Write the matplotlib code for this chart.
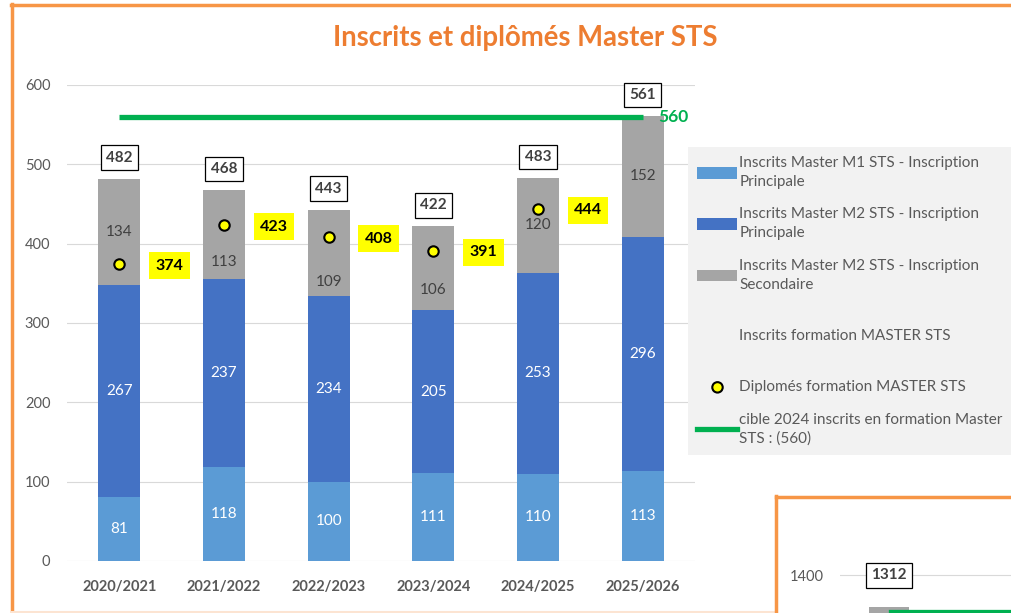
import numpy as np
import matplotlib.pyplot as plt
from matplotlib.patches import Patch
from matplotlib.lines import Line2D
from matplotlib.markers import MarkerStyle
from matplotlib.transforms import Affine2D

plt.rcParams['font.family'] = ['Lato', 'DejaVu Sans']

years = ['2020/2021', '2021/2022', '2022/2023', '2023/2024', '2024/2025', '2025/2026']
m1_main = [81, 118, 100, 111, 110, 113]
m2_main = [267, 237, 234, 205, 253, 296]
m2_second = [134, 113, 109, 106, 120, 152]
graduates = [374, 423, 408, 391, 444]
target = 560

# neighbouring chart, only its top corner is visible
other_total = 1312
other_target = 1300

# the grey labels were moved down by hand in the original where the dot sits on them
sec_shift = [0, -35, -37, -28, 0, 0]

c_m1 = '#5B9BD5'
c_m2 = '#4472C4'
c_m2s = '#A5A5A5'
c_green = '#00B050'
c_txt = '#595959'
c_orange = '#F79646'

W, H = 1012, 613
fig = plt.figure(figsize=(W / 100, H / 100), dpi=100)

def fx(px):
    return px / W

def fy(py):
    return 1 - py / H

# frames
fig.add_artist(Line2D([fx(12), fx(12)], [fy(4), fy(613)], color=c_orange, lw=2.5))
fig.add_artist(Line2D([fx(11), 1], [fy(5), fy(5)], color=c_orange, lw=2.5))
fig.add_artist(Line2D([fx(12), fx(775)], [fy(612), fy(612)], color='#FCE4D2', lw=1.5))

ax = fig.add_axes([fx(67), fy(561), fx(695 - 67), fy(85) - fy(561)])
x = np.arange(len(years))
m1 = np.array(m1_main)
m2 = np.array(m2_main)
m2s = np.array(m2_second)
total = m1 + m2 + m2s
bw = 0.40

ax.bar(x, m1, bw, color=c_m1, zorder=2)
ax.bar(x, m2, bw, bottom=m1, color=c_m2, zorder=2)
ax.bar(x, m2s, bw, bottom=m1 + m2, color=c_m2s, zorder=2)

for i in range(len(years)):
    ax.text(x[i], m1[i] / 2, str(m1[i]), ha='center', va='center', color='white', fontsize=11, zorder=4)
    ax.text(x[i], m1[i] + m2[i] / 2, str(m2[i]), ha='center', va='center', color='white', fontsize=11, zorder=4)
    ax.text(x[i], m1[i] + m2[i] + m2s[i] / 2 + sec_shift[i], str(m2s[i]), ha='center', va='center',
            color='#404040', fontsize=11, zorder=4)
    ax.annotate(str(total[i]), (x[i], total[i]), xytext=(0, 15), textcoords='offset points',
                ha='center', va='center', fontsize=11, fontweight='bold', color='#404040', zorder=5,
                bbox=dict(boxstyle='square,pad=0.35', fc='white', ec='black', lw=0.9))

# target line
ax.plot([x[0], x[-1]], [target, target], color=c_green, lw=3.8, zorder=3, solid_capstyle='butt')
ax.annotate(str(target), (x[-1], target), xytext=(11, 0), textcoords='offset points',
            ha='left', va='center', color=c_green, fontsize=12.5, fontweight='bold')

# graduates
gx = x[:len(graduates)]
ax.plot(gx, graduates, 'o', ms=7.5, mfc='#FFFF00', mec='black', mew=1.5, ls='none', zorder=6)
for xi, g in zip(gx, graduates):
    ax.annotate(str(g), (xi, g), xytext=(36, -1), textcoords='offset points',
                ha='center', va='center', fontsize=11.5, fontweight='bold', color='black', zorder=6,
                bbox=dict(boxstyle='square,pad=0.4', fc='#FFFF00', ec='none'))

ax.set_xlim(-0.5, len(years) - 0.5)
ax.set_ylim(0, 600)
ax.set_yticks(range(0, 601, 100))
ax.set_xticks(x)
ax.set_xticklabels(years, fontweight='bold')
ax.tick_params(axis='y', length=0, pad=12, labelsize=10.5, labelcolor=c_txt)
ax.tick_params(axis='x', length=0, pad=14, labelsize=10.5, labelcolor=c_txt)
ax.grid(axis='y', color='#D9D9D9', lw=0.8, zorder=0)
ax.set_axisbelow(True)
for s in ax.spines.values():
    s.set_visible(False)

fig.text(fx(525), fy(38), 'Inscrits et diplômés Master STS', ha='center', va='center',
         fontsize=19.8, fontweight='bold', color='#ED7D31')

# legend dot pushed down onto the text line of its two-line label
low_dot = MarkerStyle('o', transform=Affine2D().translate(0, -0.85))
handles = [
    Patch(fc=c_m1, ec='none'),
    Patch(fc=c_m2, ec='none'),
    Patch(fc=c_m2s, ec='none'),
    Patch(fc='none', ec='none'),
    Line2D([], [], marker=low_dot, ms=7.5, mfc='#FFFF00', mec='black', mew=1.5, ls='none'),
    Line2D([], [], color=c_green, lw=3.8),
]
# every entry gets two lines, like the Excel legend
labels = [
    'Inscrits Master M1 STS - Inscription\nPrincipale',
    'Inscrits Master M2 STS - Inscription\nPrincipale',
    'Inscrits Master M2 STS - Inscription\nSecondaire',
    '\nInscrits formation MASTER STS',
    '\nDiplomés formation MASTER STS',
    'cible 2024 inscrits en formation Master\nSTS : (560)',
]
leg = fig.legend(handles, labels, loc='upper left', bbox_to_anchor=(fx(688), fy(147)),
                 frameon=True, fancybox=False, facecolor='#F2F2F2', edgecolor='none',
                 fontsize=11, labelcolor=c_txt, handlelength=2.6, handleheight=0.8,
                 handletextpad=0.15, labelspacing=1.2, borderpad=0.6, borderaxespad=0)
leg.get_frame().set_alpha(1)
for t in leg.get_texts():
    t.set_linespacing(1.45)

# corner of the next chart
fig.add_artist(Line2D([fx(776), 1], [fy(497), fy(497)], color=c_orange, lw=2.5))
fig.add_artist(Line2D([fx(776), fx(776)], [fy(496), 0], color=c_orange, lw=2.5))
ax2 = fig.add_axes([fx(840), 0, 1 - fx(840), fy(497)])
ax2.set_xlim(-1.4, 3.5)
ax2.set_ylim(1296, 1614)
ax2.bar([0], [other_total], 1.15, color=c_m2s, zorder=2)
ax2.plot([0.05, 3.5], [other_target, other_target], color=c_green, lw=3.8, zorder=3)
ax2.annotate(str(other_total), (0, other_total), xytext=(0, 23), textcoords='offset points',
             ha='center', va='center', fontsize=11, fontweight='bold', color='#404040', zorder=5,
             bbox=dict(boxstyle='square,pad=0.35', fc='white', ec='black', lw=0.9))
ax2.set_yticks([1400])
ax2.set_xticks([])
ax2.tick_params(axis='y', length=0, pad=12, labelsize=10.5, labelcolor=c_txt)
ax2.grid(axis='y', color='#D9D9D9', lw=0.8, zorder=0)
ax2.set_axisbelow(True)
for s in ax2.spines.values():
    s.set_visible(False)

fig.savefig('out.png', dpi=100)
